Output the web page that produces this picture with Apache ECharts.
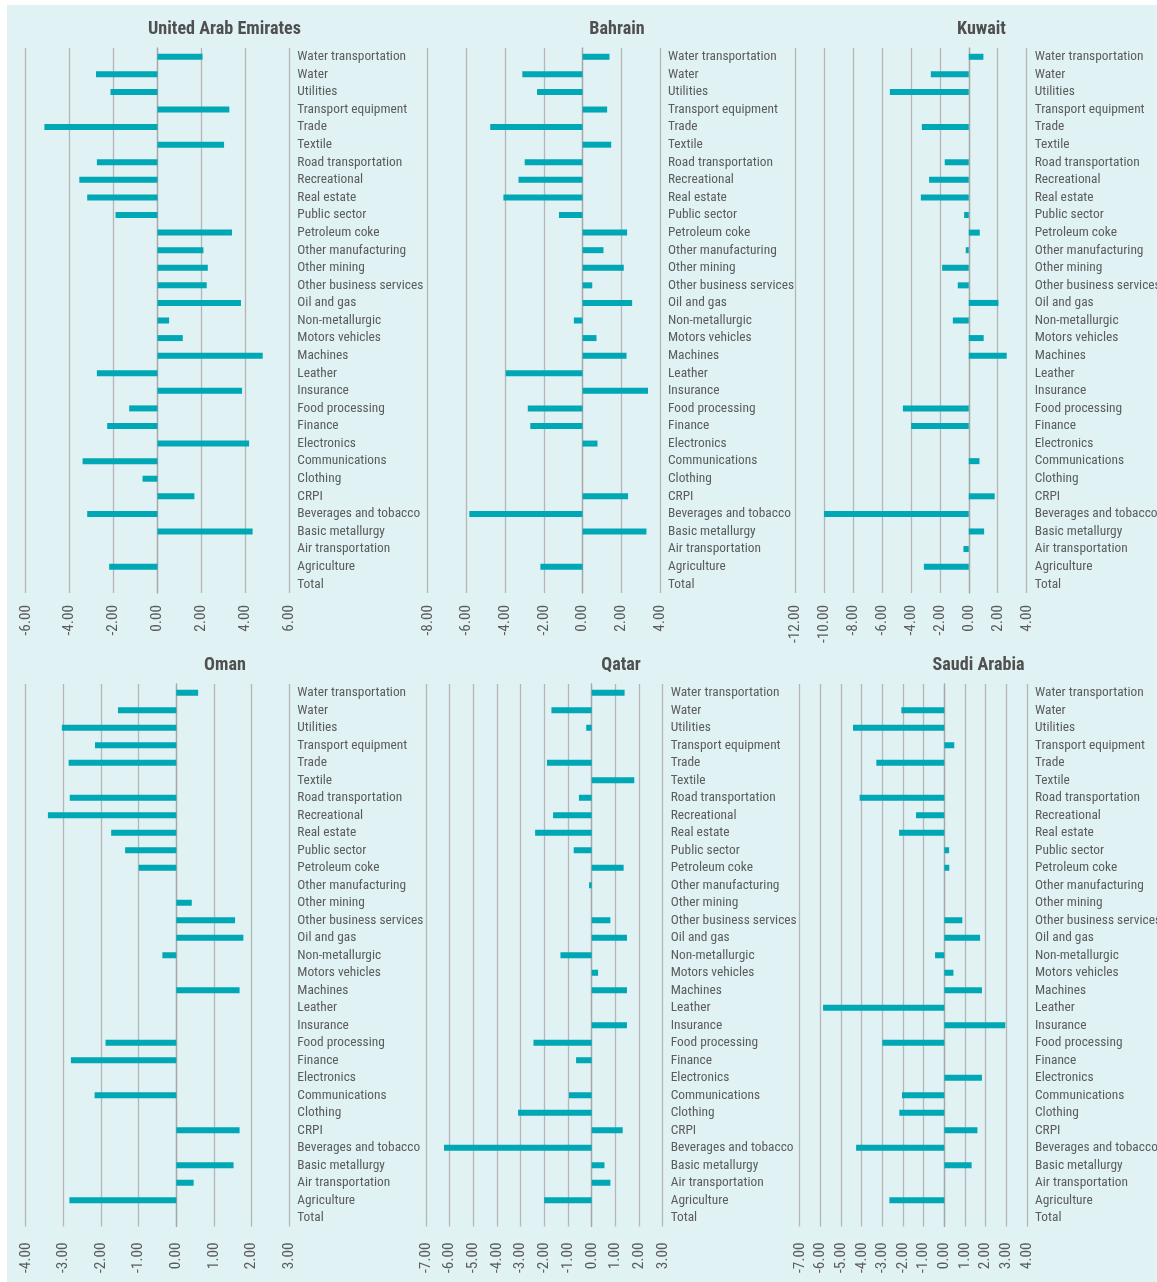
<!DOCTYPE html>
<html>
<head>
<meta charset="utf-8">
<script src="https://cdn.jsdelivr.net/npm/echarts@6/dist/echarts.min.js"></script>
<style>
  html, body { margin: 0; padding: 0; background: #ffffff; }
  #chart { position: absolute; left: 7px; top: 5px; width: 1150px; height: 1277px; }
</style>
</head>
<body>
<div id="chart"></div>
<script>
// Sectors, listed top to bottom
const categories = [
  'Water transportation', 'Water', 'Utilities', 'Transport equipment', 'Trade', 'Textile',
  'Road transportation', 'Recreational', 'Real estate', 'Public sector', 'Petroleum coke',
  'Other manufacturing', 'Other mining', 'Other business services', 'Oil and gas',
  'Non-metallurgic', 'Motors vehicles', 'Machines', 'Leather', 'Insurance', 'Food processing',
  'Finance', 'Electronics', 'Communications', 'Clothing', 'CRPI', 'Beverages and tobacco',
  'Basic metallurgy', 'Air transportation', 'Agriculture', 'Total'
];

const countries = ['United Arab Emirates', 'Bahrain', 'Kuwait', 'Oman', 'Qatar', 'Saudi Arabia'];

const uae = [2.05, -2.80, -2.14, 3.27, -5.15, 3.03, -2.76, -3.56, -3.20, -1.91, 3.39, 2.09, 2.29, 2.24, 3.80,
  0.53, 1.15, 4.79, -2.76, 3.85, -1.29, -2.29, 4.17, -3.41, -0.68, 1.68, -3.20, 4.33, 0, -2.20, 0];
const bahrain = [1.39, -3.11, -2.35, 1.27, -4.77, 1.48, -2.99, -3.31, -4.09, -1.22, 2.30, 1.08, 2.13, 0.50, 2.56,
  -0.45, 0.72, 2.27, -3.97, 3.38, -2.83, -2.70, 0.77, 0, 0, 2.35, -5.85, 3.30, 0, -2.18, 0];
const kuwait = [1.01, -2.62, -5.45, 0, -3.24, 0, -1.66, -2.74, -3.31, -0.32, 0.76, -0.21, -1.84, -0.76, 2.05,
  -1.10, 1.03, 2.62, 0, 0, -4.55, -3.98, 0, 0.74, 0, 1.79, -10.0, 1.06, -0.37, -3.10, 0];
const oman = [0.58, -1.55, -3.04, -2.16, -2.86, 0, -2.83, -3.41, -1.73, -1.36, -1.00, 0, 0.41, 1.56, 1.78,
  -0.37, 0, 1.68, 0, 0, -1.88, -2.80, 0, -2.17, 0, 1.68, 0, 1.52, 0.46, -2.84, 0];
const qatar = [1.39, -1.70, -0.23, 0, -1.89, 1.80, -0.54, -1.63, -2.39, -0.76, 1.35, -0.11, 0, 0.79, 1.49,
  -1.32, 0.27, 1.49, 0, 1.49, -2.46, -0.66, 0, -0.96, -3.11, 1.31, -6.24, 0.54, 0.79, -2.01, 0];
const saudi = [0, -2.08, -4.42, 0.48, -3.29, 0, -4.10, -1.37, -2.19, 0.23, 0.24, 0, 0, 0.87, 1.73,
  -0.45, 0.44, 1.82, -5.87, 2.95, -3.00, 0, 1.82, -2.05, -2.18, 1.60, -4.27, 1.32, 0, -2.66, 0];

// Value-axis ranges: [min, max, interval]
const axisUae = [-6, 6, 2];
const axisBahrain = [-8, 4, 2];
const axisKuwait = [-12, 4, 2];
const axisOman = [-4, 3, 1];
const axisQatar = [-7, 3, 1];
const axisSaudi = [-7, 4, 1];

const seriesData = [uae, bahrain, kuwait, oman, qatar, saudi];
const axisRanges = [axisUae, axisBahrain, axisKuwait, axisOman, axisQatar, axisSaudi];

// Page-space layout of each plot area: [left, right, top, bottom, titleCenterX, titleY]
const OFFX = 7, OFFY = 5;
const panels = [
  [25.7, 289.3, 48, 593, 219.5, 27],
  [427.7, 660, 48, 593, 612, 27],
  [795, 1026.7, 48, 593, 976.5, 27],
  [25.7, 289.3, 684, 1226.5, 220, 663],
  [426, 662.7, 684, 1226.5, 616, 663],
  [799.7, 1027, 684, 1226.5, 973.5, 663]
];

// Pick the narrowest installed sans face and size text to a target width
const measureCtx = document.createElement('canvas').getContext('2d');
function installed(name) {
  const probe = 'Water transportation 0123456789';
  return ['monospace', 'serif'].some(fb => {
    measureCtx.font = `40px ${fb}`;
    const a = measureCtx.measureText(probe).width;
    measureCtx.font = `40px '${name}', ${fb}`;
    return measureCtx.measureText(probe).width !== a;
  });
}
const candidates = ['Noto Sans ExtraCondensed', 'Noto Sans Condensed', 'Roboto Condensed',
  'Liberation Sans Narrow', 'Open Sans Condensed', 'Noto Sans SemiCondensed', 'DejaVu Sans Condensed'];
const FACE = candidates.find(installed) || 'DejaVu Sans Condensed';
const FONT = `'${FACE}', 'DejaVu Sans Condensed', sans-serif`;
function fitSize(text, targetPx, weight, lo, hi) {
  measureCtx.font = `${weight} 100px ${FONT}`;
  const w = measureCtx.measureText(text).width / 100;
  return Math.max(lo, Math.min(hi, targetPx / w));
}
const catSize = fitSize('Water transportation', 109, 'normal', 12.5, 17);
const tickSize = fitSize('-12.00', 38, 'normal', 12.5, 17);
const titleSize = fitSize('United Arab Emirates', 153, 'bold', 16, 23);

const TEXT = '#5c5c5c';
const BAR = '#00a7b4';
const GRID = '#b6b6b6';

const grids = [], xAxes = [], yAxes = [], series = [], titles = [];
panels.forEach((p, i) => {
  const [l, r, t, b, tx, ty] = p;
  grids.push({
    left: l - OFFX, top: t - OFFY, width: r - l, height: b - t,
    containLabel: false, outerBoundsMode: 'none'
  });
  titles.push({
    text: countries[i],
    left: tx - OFFX,
    top: ty - OFFY - titleSize * 0.62,
    textAlign: 'center',
    textStyle: { fontFamily: FONT, fontSize: titleSize, fontWeight: 'bold', color: '#505050' }
  });
  const [mn, mx, iv] = axisRanges[i];
  xAxes.push({
    type: 'value', gridIndex: i, min: mn, max: mx, interval: iv,
    axisLine: { show: false }, axisTick: { show: false },
    splitLine: { show: true, lineStyle: { color: GRID, width: 1.3 } },
    axisLabel: {
      rotate: 90, margin: i < 3 ? 12 : 16, showMinLabel: true, showMaxLabel: true,
      fontFamily: FONT, fontSize: tickSize, color: TEXT,
      formatter: v => v.toFixed(2)
    }
  });
  yAxes.push({
    type: 'category', gridIndex: i, data: categories, inverse: true, position: 'right',
    axisLine: { show: true, lineStyle: { color: '#a8a8a8', width: 1.3 } },
    axisTick: { show: false },
    splitLine: { show: false },
    axisLabel: { interval: 0, margin: 8, fontFamily: FONT, fontSize: catSize, color: TEXT, align: 'left' }
  });
  series.push({
    type: 'bar', name: countries[i], xAxisIndex: i, yAxisIndex: i,
    data: seriesData[i], barWidth: 6,
    itemStyle: { color: BAR },
    emphasis: { disabled: true }
  });
});

const chart = echarts.init(document.getElementById('chart'), null, { renderer: 'canvas' });
chart.setOption({
  backgroundColor: '#e0f2f4',
  animation: false,
  title: titles,
  grid: grids,
  xAxis: xAxes,
  yAxis: yAxes,
  series: series
});
</script>
</body>
</html>
